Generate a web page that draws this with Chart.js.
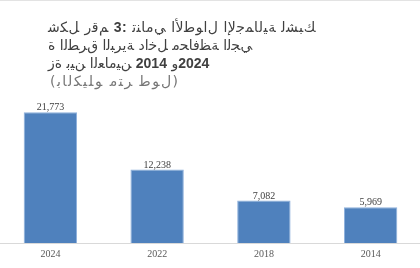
<!DOCTYPE html>
<html>
<head>
<meta charset="utf-8">
<script src="https://cdn.jsdelivr.net/npm/chart.js@4.4.1/dist/chart.umd.min.js"></script>
<style>
  html, body { margin: 0; padding: 0; background: #ffffff; overflow: hidden; }
  #c { display: block; margin-left: -3px; }
</style>
</head>
<body>
<canvas id="c" width="427" height="268"></canvas>
<script>
// ---- data ----
const categories = ['2024', '2022', '2018', '2014'];
const lengthsKm = [21773, 12238, 7082, 5969];
const valueLabels = ['21,773', '12,238', '7,082', '5,969'];
const titleLines = [
  'شكل رقم 3: تنامي الأطوال الإجمالية لشبك',
  'ة الطرق البرية داخل محافظة الجي',
  'زة بين العامين 2014 و2024'
];
const subtitleLine = '(بالكيلو متر طول)';

// ---- Arabic contextual forms (glyphs laid out left to right, as in the source image) ----
const four = b => [b, b + 1, b + 2, b + 3];
const two = b => [b, b + 1];
const FORMS = {
  '\u0621': [0xFE80], '\u0622': two(0xFE81), '\u0623': two(0xFE83), '\u0624': two(0xFE85),
  '\u0625': two(0xFE87), '\u0626': four(0xFE89), '\u0627': two(0xFE8D), '\u0628': four(0xFE8F),
  '\u0629': two(0xFE93), '\u062A': four(0xFE95), '\u062B': four(0xFE99), '\u062C': four(0xFE9D),
  '\u062D': four(0xFEA1), '\u062E': four(0xFEA5), '\u062F': two(0xFEA9), '\u0630': two(0xFEAB),
  '\u0631': two(0xFEAD), '\u0632': two(0xFEAF), '\u0633': four(0xFEB1), '\u0634': four(0xFEB5),
  '\u0635': four(0xFEB9), '\u0636': four(0xFEBD), '\u0637': four(0xFEC1), '\u0638': four(0xFEC5),
  '\u0639': four(0xFEC9), '\u063A': four(0xFECD), '\u0641': four(0xFED1), '\u0642': four(0xFED5),
  '\u0643': four(0xFED9), '\u0644': four(0xFEDD), '\u0645': four(0xFEE1), '\u0646': four(0xFEE5),
  '\u0647': four(0xFEE9), '\u0648': two(0xFEED), '\u0649': two(0xFEEF), '\u064A': four(0xFEF1)
};
const LAMALEF = { '\u0622': 0xFEF5, '\u0623': 0xFEF7, '\u0625': 0xFEF9, '\u0627': 0xFEFB };

function shape(str) {
  const ch = Array.from(str);
  const out = [];
  for (let i = 0; i < ch.length; i++) {
    const c = ch[i];
    const f = FORMS[c];
    if (!f) { out.push(c); continue; }
    const prev = ch[i - 1];
    const prevJoins = !!(prev && FORMS[prev] && FORMS[prev].length === 4 && f.length > 1);
    if (c === '\u0644' && LAMALEF[ch[i + 1]]) {
      out.push(String.fromCharCode(LAMALEF[ch[i + 1]] + (prevJoins ? 1 : 0)));
      i++;
      continue;
    }
    const next = ch[i + 1];
    const nextJoins = !!(f.length === 4 && next && FORMS[next] && FORMS[next].length > 1);
    const form = prevJoins ? (nextJoins ? 3 : 1) : (nextJoins ? 2 : 0);
    out.push(String.fromCharCode(f[form]));
  }
  return out;
}

function drawLTR(ctx, text, x, y, arFont, boldFont, extra) {
  const glyphs = shape(text);
  let cx = x;
  glyphs.forEach(g => {
    ctx.font = /[0-9:]/.test(g) ? boldFont : arFont;
    ctx.fillText(g, cx, y);
    cx += ctx.measureText(g).width + (extra || 0);
  });
}

const titlePlugin = {
  id: 'customTitle',
  afterDraw(chart) {
    const ctx = chart.ctx;
    ctx.save();
    ctx.fillStyle = '#e3e3e3';
    ctx.fillRect(0, 0, chart.width, 1);
    ctx.direction = 'ltr';
    ctx.textAlign = 'left';
    ctx.textBaseline = 'middle';
    ctx.fillStyle = '#404040';
    const ar = '14px "DejaVu Sans", sans-serif';
    const bd = 'bold 14px "Liberation Sans", "DejaVu Sans", sans-serif';
    const ys = [28, 46, 64];
    const extras = [0.5, 0, 0];
    titleLines.forEach((t, i) => drawLTR(ctx, t, 51, ys[i], ar, bd, extras[i]));
    ctx.fillStyle = '#767676';
    const sub = '14px "DejaVu Sans", sans-serif';
    drawLTR(ctx, subtitleLine, 53, 82, sub, sub, 1.5);
    ctx.restore();
  }
};

const valueLabelPlugin = {
  id: 'valueLabels',
  afterDatasetsDraw(chart) {
    const ctx = chart.ctx;
    const meta = chart.getDatasetMeta(0);
    ctx.save();
    ctx.fillStyle = '#404040';
    ctx.font = '10px "Liberation Serif", serif';
    ctx.textAlign = 'center';
    ctx.textBaseline = 'alphabetic';
    meta.data.forEach((bar, i) => {
      ctx.fillText(valueLabels[i], bar.x, bar.y - 2);
    });
    ctx.restore();
  }
};

new Chart(document.getElementById('c'), {
  type: 'bar',
  data: {
    labels: categories,
    datasets: [{
      data: lengthsKm,
      backgroundColor: '#4f81bd',
      borderColor: '#8db0dc',
      borderWidth: 1,
      barPercentage: 0.5,
      categoryPercentage: 1.0
    }]
  },
  options: {
    responsive: false,
    animation: false,
    devicePixelRatio: 1,
    layout: { padding: { top: 93, left: 0, right: 0, bottom: 3 } },
    plugins: {
      legend: { display: false },
      tooltip: { enabled: false },
      title: { display: false }
    },
    scales: {
      x: {
        grid: { display: false, drawTicks: false },
        border: { display: true, color: '#d9d9d9', width: 1 },
        ticks: {
          color: '#595959',
          font: { family: '"Liberation Serif", serif', size: 10 },
          padding: 5,
          maxRotation: 0
        }
      },
      y: {
        display: false,
        min: 0,
        max: 25000
      }
    }
  },
  plugins: [titlePlugin, valueLabelPlugin]
});
</script>
</body>
</html>
